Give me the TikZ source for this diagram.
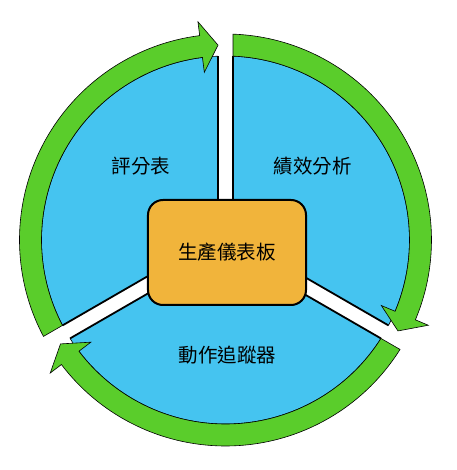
\documentclass[tikz,border=0pt]{standalone}
\usepackage{fontspec}
\newfontfamily\cjk{Noto Sans CJK TC}
\definecolor{skyblue}{HTML}{45C4F0}
\definecolor{ringgreen}{HTML}{5ACD2B}
\definecolor{boxorange}{HTML}{F1B43B}
\begin{document}
\begin{tikzpicture}[x=1bp,y=1bp,
  arcline/.style={draw=black,line width=0.6bp},
  edgeline/.style={draw=black,line width=1.8bp},
  ringarrow/.style={fill=ringgreen,draw=black,line width=0.6bp,line join=miter},
  hubbox/.style={draw=black,line width=2bp,fill=boxorange,rounded corners=15bp,
    minimum width=158bp,minimum height=105bp,inner sep=0pt,
    font=\cjk\fontsize{19.5bp}{24bp}\selectfont},
  lbl/.style={inner sep=0pt,font=\cjk\fontsize{19.5bp}{24bp}\selectfont}]
\useasboundingbox (-225.5,-230) rectangle (231.5,240);
% blue sectors
\foreach \a in {90,210,330} {
  \fill[skyblue] ({\a-60}:8.66bp) -- ({\a-2.34}:184bp)
    arc[start angle={\a-2.34}, end angle={\a-117.66}, radius=184bp] -- cycle;
  \draw[arcline] ({\a-2.34}:184bp)
    arc[start angle={\a-2.34}, end angle={\a-117.66}, radius=184bp];
}
% gap edges
\foreach \g in {90,210,330} {
  \draw[edgeline] ({\g-60}:8.66bp) -- ({\g-2.34}:184bp);
  \draw[edgeline] ({\g+60}:8.66bp) -- ({\g+2.34}:184bp);
}
% ring arrows (clockwise)
\foreach \t in {210,90,-30} {
  \filldraw[ringarrow] ({\t-2.09}:206bp)
    arc[start angle={\t-2.09}, end angle={\t-112.8}, radius=206bp]
    -- ({\t-112.8}:220bp) -- ({\t-117.8}:195bp) -- ({\t-112.8}:169bp)
    -- ({\t-112.8}:184bp)
    arc[start angle={\t-112.8}, end angle={\t-2.34}, radius=184bp] -- cycle;
}
\node[hubbox] (hub) at (1.5,-12.5) {生產儀表板};
\node[lbl] (score) at (-84.5,74) {評分表};
\node[lbl] (perf) at (87,74) {績效分析};
\node[lbl] (track) at (2,-115) {動作追蹤器};
\end{tikzpicture}
\end{document}
